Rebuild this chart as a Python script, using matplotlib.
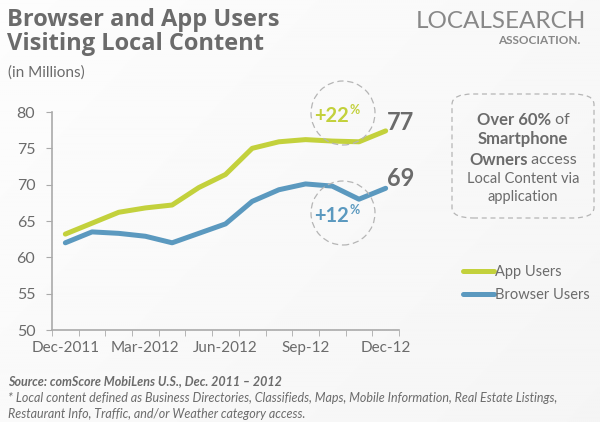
import numpy as np
import matplotlib.pyplot as plt
from matplotlib.patches import Ellipse, FancyBboxPatch

plt.rcParams['font.family'] = ['Lato', 'DejaVu Sans']

# data (millions of users)
months = ['Dec-2011', 'Jan', 'Feb', 'Mar-2012', 'Apr', 'May', 'Jun-2012',
          'Jul', 'Aug', 'Sep-12', 'Oct', 'Nov', 'Dec-12']
app_users = [63.2, 64.7, 66.2, 66.8, 67.2, 69.6, 71.4, 75.0, 75.9, 76.2, 76.0, 75.9, 77.4]
browser_users = [62.0, 63.5, 63.3, 62.9, 62.0, 63.3, 64.6, 67.7, 69.3, 70.1, 69.8, 68.0, 69.5]
tick_labels = ['Dec-2011', 'Mar-2012', 'Jun-2012', 'Sep-12', 'Dec-12']

GREEN = '#c3d13c'
BLUE = '#5b99bf'
GRAY = '#6b6b6b'

W, H = 600, 422
fig = plt.figure(figsize=(6, 4.22), dpi=100)

# soft background
bg = fig.add_axes([0, 0, 1, 1], zorder=-10)
yy, xx = np.mgrid[0:1:200j, 0:1:300j]
shade = 0.99 - 0.03 * (0.6 * xx + 0.4 * yy)
bg.imshow(shade, cmap='gray', vmin=0, vmax=1, aspect='auto', extent=[0, 1, 0, 1])
bg.axis('off')

def fx(px):
    return px / W

def fy(py):
    return 1 - py / H

ax = fig.add_axes([fx(52), fy(330), fx(399) - fx(52), fy(112) - fy(330)])
ax.patch.set_alpha(0)
x = np.arange(len(months))
ax.plot(x, app_users, color=GREEN, lw=3.6, solid_capstyle='round', label='App Users')
ax.plot(x, browser_users, color=BLUE, lw=3.6, solid_capstyle='round', label='Browser Users')
ax.set_xlim(-0.5, len(months) - 0.5)
ax.set_ylim(50, 80)
ax.set_yticks(range(50, 81, 5))
ax.set_xticks(x[::3])
ax.set_xticklabels(tick_labels)
ax.set_xticks(np.arange(-0.5, len(months)), minor=True)
ax.tick_params(axis='x', which='major', length=0, pad=8, labelsize=11, colors=GRAY)
ax.tick_params(axis='x', which='minor', length=4, color='#aaaaaa', direction='out')
ax.tick_params(axis='y', length=4, color='#aaaaaa', labelsize=11.5, labelcolor=GRAY, pad=8)
for s in ['top', 'right']:
    ax.spines[s].set_visible(False)
for s in ['left', 'bottom']:
    ax.spines[s].set_color('#aaaaaa')
    ax.spines[s].set_linewidth(1.2)

ax.legend(loc='upper left', bbox_to_anchor=(fx(463), fy(265)), bbox_transform=fig.transFigure,
          frameon=False, handlelength=2.1, handletextpad=0.1, labelspacing=0.65,
          borderpad=0, borderaxespad=0, fontsize=10.5, labelcolor=GRAY)

# titles
fig.text(fx(7), fy(8), 'Browser and App Users\nVisiting Local Content', fontsize=17,
         fontweight='bold', color=GRAY, va='top', linespacing=0.98, family=['Open Sans'])
fig.text(fx(8), fy(73), '(in Millions)', fontsize=11, color=GRAY, va='center')

# logo
fig.text(fx(586), fy(21), 'LOCALSEARCH', fontsize=17.5, color='#888888', ha='right', va='center')
fig.text(fx(580), fy(40), 'ASSOCIATION.', fontsize=8.5, fontweight='bold', color='#888888',
         ha='right', va='center')

# end labels
fig.text(fx(387), fy(123), '77', fontsize=17, fontweight='bold', color=GRAY, va='center')
fig.text(fx(387), fy(178), '69', fontsize=17, fontweight='bold', color=GRAY, va='center')

# dashed circles with growth
for cy, txt, col in [(113, '+22', GREEN), (213, '+12', BLUE)]:
    fig.patches.append(Ellipse((fx(343), fy(cy)), 64 / W, 64 / H, transform=fig.transFigure,
                               fill=False, ec='#b5b5b5', lw=0.9, ls=(0, (5, 3))))
    fig.text(fx(349), fy(cy + 3), txt, fontsize=14.5, fontweight='bold', color=col,
             ha='right', va='center')
    fig.text(fx(349), fy(cy - 3), '%', fontsize=9, fontweight='bold', color=col,
             ha='left', va='center')

# dashed info box
fig.patches.append(FancyBboxPatch((fx(452), fy(218)), fx(142), 124 / H,
                                  boxstyle='round,pad=0,rounding_size=0.035',
                                  transform=fig.transFigure, fill=False, ec='#b5b5b5',
                                  lw=0.9, ls=(0, (4, 3)), mutation_aspect=H / W))

fig.canvas.draw()
renderer = fig.canvas.get_renderer()

def mixed_line(cx, cy, parts, size=11.5):
    # draw pieces of one line centred on cx
    objs = []
    for s, bold in parts:
        t = fig.text(0, fy(cy), s, fontsize=size if bold else size - 0.5, color=GRAY,
                     va='center', fontweight='bold' if bold else 'normal')
        objs.append(t)
    widths = [o.get_window_extent(renderer).width for o in objs]
    left = cx - sum(widths) / 2
    for o, w in zip(objs, widths):
        o.set_x(fx(left))
        left += w

mixed_line(523, 120, [('Over 60%', True), (' of', False)], size=12)
mixed_line(523, 139, [('Smartphone', True)], size=12)
mixed_line(523, 160, [('Owners', True), (' access', False)], size=12)
mixed_line(523, 179, [('Local Content via', False)], size=11)
mixed_line(523, 197, [('application', False)], size=11)

# footnotes
fig.text(fx(8), fy(381), 'Source: comScore MobiLens U.S., Dec. 2011 \u2013 2012', fontsize=9,
         fontweight='bold', style='italic', color=GRAY, va='center')
fig.text(fx(8), fy(398), '* Local content defined as Business Directories, Classifieds, Maps, '
         'Mobile Information, Real Estate Listings,', fontsize=9, style='italic',
         color=GRAY, va='center')
fig.text(fx(8), fy(414), 'Restaurant Info, Traffic, and/or Weather category access.',
         fontsize=9, style='italic', color=GRAY, va='center')

fig.savefig('out.png', dpi=100)
